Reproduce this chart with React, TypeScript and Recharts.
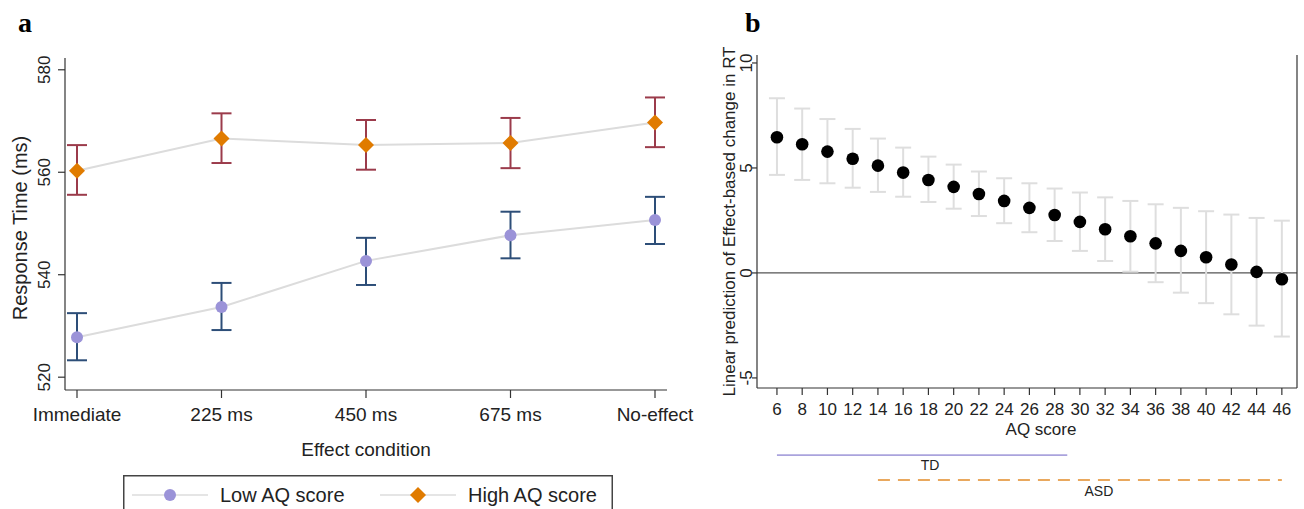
import { LineChart, Line, XAxis, YAxis, ErrorBar, Legend, ScatterChart, Scatter, ReferenceLine, ReferenceDot } from "recharts";

// panel a: response time by effect condition
const conditions = ["Immediate", "225 ms", "450 ms", "675 ms", "No-effect"];
const seriesNames = ["Low AQ score", "High AQ score"];
const lowMean = [527.8, 533.7, 542.7, 547.7, 550.7];
const lowLo = [523.3, 529.2, 538.0, 543.2, 546.0];
const lowHi = [532.5, 538.4, 547.2, 552.3, 555.2];
const highMean = [560.3, 566.6, 565.3, 565.7, 569.7];
const highLo = [555.6, 561.8, 560.5, 560.8, 564.9];
const highHi = [565.3, 571.5, 570.2, 570.6, 574.6];
const rtTicks = [520, 540, 560, 580];

// panel b: linear prediction by AQ score
const aqScores = [6, 8, 10, 12, 14, 16, 18, 20, 22, 24, 26, 28, 30, 32, 34, 36, 38, 40, 42, 44, 46];
const predMean = [6.46, 6.13, 5.78, 5.44, 5.11, 4.78, 4.43, 4.1, 3.76, 3.43, 3.1, 2.76, 2.43, 2.08, 1.75, 1.41, 1.05, 0.75, 0.4, 0.05, -0.3];
const predLo = [4.67, 4.43, 4.27, 4.06, 3.86, 3.63, 3.38, 3.06, 2.71, 2.37, 1.94, 1.52, 1.05, 0.57, 0.06, -0.44, -0.94, -1.44, -1.97, -2.51, -3.03];
const predHi = [8.32, 7.83, 7.33, 6.86, 6.4, 5.97, 5.54, 5.16, 4.83, 4.51, 4.27, 4.02, 3.83, 3.6, 3.43, 3.27, 3.1, 2.94, 2.78, 2.62, 2.49];
const predTicks = [-5, 0, 5, 10];

// AQ ranges of the two groups
const groupNames = ["TD", "ASD"];
const tdRange = [6, 29];
const asdRange = [14, 46];

const FONT = "'Liberation Sans', Arial, sans-serif";
const INK = "#222";
const AQ_DOMAIN: [number, number] = [4.42, 47.2];

const rtData = conditions.map((name, i) => ({
  name,
  low: lowMean[i],
  lowErr: [lowMean[i] - lowLo[i], lowHi[i] - lowMean[i]],
  high: highMean[i],
  highErr: [highMean[i] - highLo[i], highHi[i] - highMean[i]],
}));

const predData = aqScores.map((aq, i) => ({
  aq,
  pred: predMean[i],
  predErr: [predMean[i] - predLo[i], predHi[i] - predMean[i]],
}));

// rows of the little range strip (row height is layout only)
const TD_ROW = 0.78;
const ASD_ROW = 0.42;
const tdLine = tdRange.map((x) => ({ x, y: TD_ROW }));
const asdLine = asdRange.map((x) => ({ x, y: ASD_ROW }));

const markerColors = ["#9b93d8", "#e07b00"];

// rotated y tick, stata style
const RotTick = (props: any) => {
  const { x, y, payload, fontSize } = props;
  return (
    <text x={x} y={y} transform={`rotate(-90 ${x} ${y})`} textAnchor="middle" fontSize={fontSize} fontFamily={FONT} fill={INK}>
      {payload.value}
    </text>
  );
};

const yTitle = (text: string, baseX: number, dy: number, fontSize: number) => (props: any) => {
  const vb = props.viewBox;
  const x = vb.x + baseX;
  const y = vb.y + vb.height / 2 + dy;
  return (
    <text x={x} y={y} transform={`rotate(-90 ${x} ${y})`} textAnchor="middle" fontSize={fontSize} fontFamily={FONT} fill={INK}>
      {text}
    </text>
  );
};

const xTitle = (text: string, dx: number, dy: number, fontSize: number) => (props: any) => {
  const vb = props.viewBox;
  return (
    <text x={vb.x + vb.width / 2 + dx} y={vb.y + dy} textAnchor="middle" fontSize={fontSize} fontFamily={FONT} fill={INK}>
      {text}
    </text>
  );
};

const CircleDot = (props: any) => {
  const { cx, cy } = props;
  if (cx == null || cy == null) return null;
  return <circle cx={cx} cy={cy} r={6} fill={markerColors[0]} />;
};

const DiamondDot = (props: any) => {
  const { cx, cy } = props;
  if (cx == null || cy == null) return null;
  const s = 8;
  return <path d={`M${cx},${cy - s}L${cx + s},${cy}L${cx},${cy + s}L${cx - s},${cy}Z`} fill={markerColors[1]} />;
};

const RtLegend = ({ payload }: any) => {
  // keep the series order, not the alphabetical one
  const items = [...(payload || [])].sort((a: any, b: any) => seriesNames.indexOf(a.value) - seriesNames.indexOf(b.value));
  return (
    <div style={{ position: "relative", height: 36 }}>
      <svg style={{ position: "absolute", left: 123, top: 2 }} width={490} height={40}>
        <rect x={0.75} y={0.75} width={488.5} height={45} fill="#fff" stroke="#444" strokeWidth={1.5} />
        {items.map((entry: any, i: number) => {
          const ox = i * 248;
          const cy = 20;
          return (
            <g key={entry.value}>
              <line x1={ox + 9} x2={ox + 85} y1={cy} y2={cy} stroke="#dcdcdc" strokeWidth={1.5} />
              {i === 0 ? (
                <circle cx={ox + 47} cy={cy} r={6} fill={markerColors[0]} />
              ) : (
                <path d={`M${ox + 47},${cy - 8}L${ox + 55},${cy}L${ox + 47},${cy + 8}L${ox + 39},${cy}Z`} fill={markerColors[1]} />
              )}
              <text x={ox + 97} y={cy + 7} fontSize={20} fontFamily={FONT} fill={INK}>
                {entry.value}
              </text>
            </g>
          );
        })}
      </svg>
    </div>
  );
};

export default function App() {
  return (
    <div style={{ position: "absolute", left: 0, top: 0, width: 1304, height: 509, background: "#fff", overflow: "hidden" }}>
      <div style={{ position: "absolute", left: 18, top: 7, fontFamily: "'Liberation Serif', 'Times New Roman', serif", fontWeight: 700, fontSize: 28, color: "#000" }}>a</div>
      <div style={{ position: "absolute", left: 745, top: 7, fontFamily: "'Liberation Serif', 'Times New Roman', serif", fontWeight: 700, fontSize: 28, color: "#000" }}>b</div>

      {/* panel a */}
      <div style={{ position: "absolute", left: 0, top: 0 }}>
        <LineChart width={700} height={509} data={rtData} margin={{ top: 58, right: 33, left: 0, bottom: 0 }}>
          <XAxis
            dataKey="name"
            interval={0}
            padding={{ left: 12, right: 12 }}
            height={83}
            tickSize={8}
            tickMargin={10}
            tick={{ fontSize: 19, fill: INK, fontFamily: FONT }}
            axisLine={{ stroke: "#333", strokeWidth: 1.2 }}
            tickLine={{ stroke: "#333", strokeWidth: 1.2 }}
            label={xTitle("Effect condition", 0, 66, 19)}
          />
          <YAxis
            domain={[517.5, 582.3]}
            ticks={rtTicks}
            width={65}
            tickSize={7}
            tickMargin={8}
            tick={(p: any) => <RotTick {...p} fontSize={17} />}
            axisLine={{ stroke: "#333", strokeWidth: 1.2 }}
            tickLine={{ stroke: "#333", strokeWidth: 1.2 }}
            label={yTitle("Response Time (ms)", 27, 4, 20)}
          />
          <Legend verticalAlign="bottom" height={36} content={<RtLegend />} />
          <Line name={seriesNames[0]} dataKey="low" stroke="#dcdcdc" strokeWidth={2} dot={<CircleDot />} activeDot={false} isAnimationActive={false}>
            <ErrorBar dataKey="lowErr" direction="y" width={10} stroke="#2d4e78" strokeWidth={2} />
          </Line>
          <Line name={seriesNames[1]} dataKey="high" stroke="#dcdcdc" strokeWidth={2} dot={<DiamondDot />} activeDot={false} isAnimationActive={false}>
            <ErrorBar dataKey="highErr" direction="y" width={10} stroke="#9b3b4b" strokeWidth={2} />
          </Line>
        </LineChart>
      </div>

      {/* panel b */}
      <div style={{ position: "absolute", left: 700, top: 0 }}>
        <ScatterChart width={604} height={440} margin={{ top: 55, right: 7, left: 0, bottom: 0 }}>
          <XAxis
            type="number"
            dataKey="aq"
            domain={AQ_DOMAIN}
            ticks={aqScores}
            interval={0}
            allowDataOverflow
            height={52}
            tickSize={7}
            tickMargin={8}
            tick={{ fontSize: 17, fill: INK, fontFamily: FONT }}
            axisLine={{ stroke: "#333", strokeWidth: 1.2 }}
            tickLine={{ stroke: "#333", strokeWidth: 1.2 }}
            label={xTitle("AQ score", 14, 47, 17)}
          />
          <YAxis
            type="number"
            dataKey="pred"
            domain={[-5.48, 10.38]}
            ticks={predTicks}
            allowDataOverflow
            width={57}
            tickSize={5}
            tickMargin={0}
            tick={(p: any) => <RotTick {...p} fontSize={17} />}
            axisLine={{ stroke: "#333", strokeWidth: 1.2 }}
            tickLine={{ stroke: "#333", strokeWidth: 1.2 }}
            label={yTitle("Linear prediction of Effect-based change in RT", 35, 0, 17)}
          />
          <ReferenceLine y={0} stroke="#555" strokeWidth={1.2} />
          <ReferenceLine x={AQ_DOMAIN[1]} stroke="#333" strokeWidth={1.2} />
          <Scatter
            data={predData}
            dataKey="pred"
            fill="#000"
            isAnimationActive={false}
            shape={(p: any) => <circle cx={p.cx} cy={p.cy} r={6.3} fill="#000" />}
          >
            <ErrorBar dataKey="predErr" direction="y" width={8} stroke="#dedede" strokeWidth={2} />
          </Scatter>
        </ScatterChart>
      </div>

      {/* group ranges under panel b */}
      <div style={{ position: "absolute", left: 700, top: 440 }}>
        <LineChart width={604} height={69} margin={{ top: 0, right: 7, left: 57, bottom: 0 }}>
          <XAxis type="number" dataKey="x" domain={AQ_DOMAIN} allowDataOverflow hide />
          <YAxis type="number" dataKey="y" domain={[0, 1]} allowDataOverflow hide />
          <Line data={tdLine} dataKey="y" stroke="#aaa3dd" strokeWidth={1.8} dot={false} activeDot={false} isAnimationActive={false} />
          <Line data={asdLine} dataKey="y" stroke="#e9a85e" strokeWidth={2} strokeDasharray="12 8" dot={false} activeDot={false} isAnimationActive={false} />
          <ReferenceDot
            x={(tdRange[0] + tdRange[1]) / 2}
            y={TD_ROW}
            r={0}
            fill="none"
            stroke="none"
            label={{ value: groupNames[0], position: "bottom", offset: 4.5, dx: 8, fontSize: 14, fill: INK, fontFamily: FONT }}
          />
          <ReferenceDot
            x={(asdRange[0] + asdRange[1]) / 2}
            y={ASD_ROW}
            r={0}
            fill="none"
            stroke="none"
            label={{ value: groupNames[1], position: "bottom", offset: 6, dx: 19, fontSize: 14, fill: INK, fontFamily: FONT }}
          />
        </LineChart>
      </div>
    </div>
  );
}
